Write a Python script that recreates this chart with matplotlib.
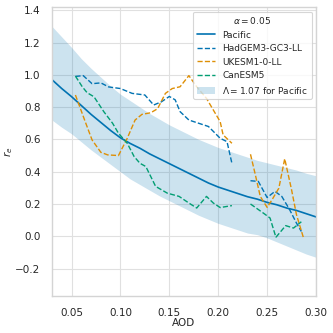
import numpy as np
import matplotlib
matplotlib.use('Agg')
import matplotlib.pyplot as plt
import seaborn as sns

nan = np.nan

# Pacific fit and its Lambda band
aod_fit = [0.03, 0.04, 0.05, 0.06, 0.07, 0.08, 0.09, 0.10, 0.11, 0.12, 0.13, 0.14,
           0.15, 0.16, 0.17, 0.18, 0.19, 0.20, 0.21, 0.22, 0.23, 0.24, 0.25, 0.26,
           0.27, 0.28, 0.29, 0.30]
re_pacific = [0.97, 0.915, 0.865, 0.81, 0.755, 0.705, 0.655, 0.61, 0.575, 0.545, 0.51, 0.48,
              0.45, 0.42, 0.39, 0.36, 0.33, 0.305, 0.285, 0.265, 0.245, 0.23, 0.21, 0.195,
              0.175, 0.16, 0.14, 0.12]
re_upper = [1.30, 1.235, 1.17, 1.10, 1.04, 0.985, 0.93, 0.88, 0.84, 0.80, 0.76, 0.725,
            0.69, 0.66, 0.63, 0.60, 0.575, 0.55, 0.53, 0.51, 0.49, 0.47, 0.455, 0.44,
            0.425, 0.41, 0.39, 0.375]
re_lower = [0.72, 0.675, 0.635, 0.585, 0.535, 0.49, 0.445, 0.40, 0.355, 0.32, 0.285, 0.25,
            0.22, 0.19, 0.16, 0.13, 0.105, 0.08, 0.06, 0.04, 0.02, 0.01, -0.01, -0.035,
            -0.06, -0.085, -0.11, -0.13]

# models
aod_had = [0.054, 0.062, 0.071, 0.080, 0.088, 0.100, 0.112, 0.125, 0.134, 0.142, 0.150,
           0.156, 0.161, 0.170, 0.180, 0.190, 0.202, 0.209, 0.214, 0.222,
           0.233, 0.241, 0.250, 0.258, 0.265, 0.273, 0.280, 0.285]
re_had = [0.99, 0.995, 0.945, 0.95, 0.925, 0.915, 0.885, 0.875, 0.813, 0.833, 0.866,
          0.845, 0.772, 0.72, 0.70, 0.68, 0.607, 0.586, 0.452, nan,
          0.344, 0.34, 0.24, 0.278, 0.247, 0.165, 0.082, 0.03]

aod_uk = [0.054, 0.064, 0.071, 0.080, 0.087, 0.098, 0.107, 0.115, 0.122, 0.131, 0.138,
          0.146, 0.153, 0.161, 0.170, 0.178, 0.188, 0.202, 0.205, 0.214, 0.222,
          0.233, 0.238, 0.243, 0.250, 0.255, 0.262, 0.268, 0.275, 0.280, 0.287]
re_uk = [0.875, 0.71, 0.597, 0.52, 0.504, 0.50, 0.607, 0.72, 0.755, 0.765, 0.79,
         0.885, 0.915, 0.926, 0.995, 0.926, 0.854, 0.71, 0.628, 0.576, nan,
         0.508, 0.38, 0.247, 0.179, 0.226, 0.298, 0.48, 0.288, 0.134, -0.006]

aod_can = [0.054, 0.061, 0.066, 0.073, 0.083, 0.092, 0.098, 0.107, 0.114, 0.120, 0.126,
           0.136, 0.148, 0.160, 0.170, 0.178, 0.188, 0.195, 0.202, 0.209, 0.214, 0.222,
           0.233, 0.247, 0.253, 0.259, 0.269, 0.277, 0.285]
re_can = [0.992, 0.926, 0.889, 0.864, 0.772, 0.70, 0.638, 0.576, 0.494, 0.452, 0.432,
          0.309, 0.267, 0.247, 0.206, 0.175, 0.247, 0.206, 0.178, 0.185, 0.19, nan,
          0.20, 0.14, 0.113, -0.006, 0.066, 0.051, 0.09]

sns.set_theme(context='paper', style='whitegrid', palette='colorblind')
plt.rcParams.update({'xtick.labelsize': 7.5, 'ytick.labelsize': 7.5,
                     'axes.labelsize': 7.5, 'legend.fontsize': 6.5,
                     'legend.title_fontsize': 6.5,
                     'grid.color': '#e0e0e0', 'axes.edgecolor': '#d4d4d4'})
pal = sns.color_palette('colorblind')

fig, ax = plt.subplots(figsize=(3.33, 3.33), dpi=100)
fig.subplots_adjust(left=0.156, right=0.949, top=0.979, bottom=0.111)

ax.plot(aod_fit, re_pacific, color=pal[0], lw=1.2, label='Pacific')
ax.plot(aod_had, re_had, '--', color=pal[0], lw=1.0, label='HadGEM3-GC3-LL')
ax.plot(aod_uk, re_uk, '--', color=pal[1], lw=1.0, label='UKESM1-0-LL')
ax.plot(aod_can, re_can, '--', color=pal[2], lw=1.0, label='CanESM5')
ax.fill_between(aod_fit, re_lower, re_upper, color=pal[0], alpha=0.2, lw=0,
                label=r'$\Lambda = 1.07$ for Pacific')

ax.set_xlim(0.03, 0.30)
ax.set_ylim(-0.37, 1.42)
ax.set_xticks([0.05, 0.10, 0.15, 0.20, 0.25, 0.30])
ax.set_yticks(np.arange(-0.2, 1.41, 0.2))
ax.set_xlabel('AOD')
ax.set_ylabel(r'$r_e$')
ax.yaxis.set_label_coords(-0.14, 0.5)
ax.xaxis.set_label_coords(0.5, -0.077)
ax.legend(title=r'$\alpha = 0.05$', loc='upper right')

fig.savefig('out.png', dpi=100)
